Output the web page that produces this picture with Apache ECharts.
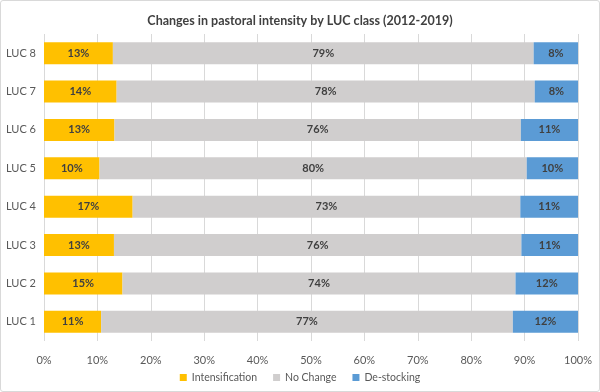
<!DOCTYPE html>
<html><head><meta charset="utf-8">
<script src="https://cdn.jsdelivr.net/npm/echarts@6/dist/echarts.min.js"></script>
<style>html,body{margin:0;padding:0;background:#fff}#c{width:598px;height:390px;border:1px solid #d9d9d9;border-radius:3px}</style>
</head><body><div id="c"></div>
<script>
const categories = ['LUC 1','LUC 2','LUC 3','LUC 4','LUC 5','LUC 6','LUC 7','LUC 8'];
const intensification = [10.7, 14.7, 13.1, 16.6, 10.4, 13.2, 13.6, 12.9];
const noChange        = [77.1, 73.6, 76.3, 72.6, 80.0, 76.1, 78.3, 78.8];
const deStocking      = [12.2, 11.7, 10.6, 10.8, 9.6, 10.7, 8.1, 8.3];
const seriesNames = ['Intensification','No Change','De-stocking'];
const colors = ['#FFC000','#D0CECE','#5B9BD5'];
const font = 'Lato, "Open Sans", sans-serif';

const chart = echarts.init(document.getElementById('c'), null, {renderer:'canvas'});
const mk = (name, data, color) => ({
  name, type:'bar', stack:'all', data, barWidth:22,
  itemStyle:{color},
  label:{show:true, position:'inside', formatter:p=>Math.round(p.value)+'%',
    color:'#404040', fontWeight:'bold', fontSize:11, fontFamily:font},
  emphasis:{disabled:true}
});
chart.setOption({
  animation:false,
  title:{text:'Changes in pastoral intensity by LUC class (2012-2019)', left:'center', top:8,
    textStyle:{fontSize:12.5, fontWeight:'bold', color:'#404040', fontFamily:font}},
  grid:{left:43, right:21, top:33, bottom:50},
  xAxis:{type:'value', min:0, max:100, interval:10,
    axisLabel:{formatter:'{value}%', color:'#595959', fontSize:11, fontFamily:font, margin:14},
    axisLine:{show:false}, axisTick:{show:false},
    splitLine:{lineStyle:{color:'#d9d9d9'}}},
  yAxis:{type:'category', data:categories,
    axisLabel:{color:'#595959', fontSize:11, fontFamily:font, margin:8},
    axisLine:{show:false}, axisTick:{show:false}},
  legend:{data:seriesNames, bottom:3, left:'center', itemWidth:7, itemHeight:7, itemGap:16,
    icon:'rect', textStyle:{color:'#595959', fontSize:10.5, fontFamily:font}},
  series:[mk(seriesNames[0], intensification, colors[0]),
          mk(seriesNames[1], noChange, colors[1]),
          mk(seriesNames[2], deStocking, colors[2])]
});
</script></body></html>
